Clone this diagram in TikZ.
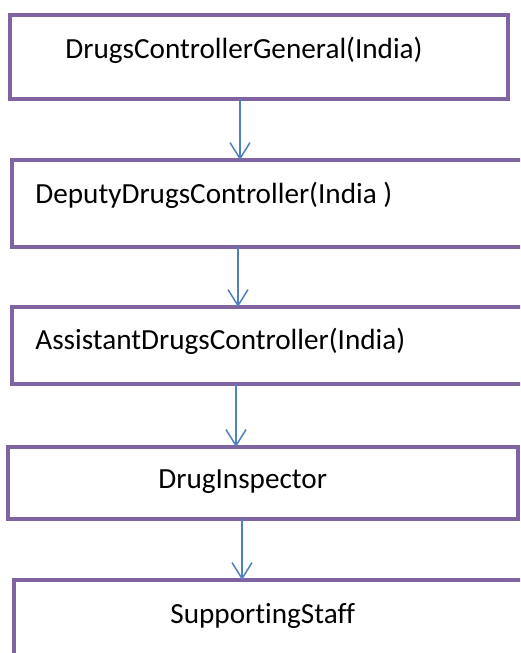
\documentclass[tikz,border=0pt]{standalone}
\usepackage{fontspec}
\setmainfont[Ligatures={NoCommon}]{Carlito}
\usepackage{tikz}
\usetikzlibrary{arrows.meta}
\definecolor{boxpurple}{HTML}{8064A2}
\definecolor{linkblue}{HTML}{4F81BD}
\tikzset{
  post/.style={draw=boxpurple,line width=2.3pt,rectangle,inner sep=0pt,outer sep=0pt},
  txt/.style={anchor=base west,inner sep=0pt,font=\fontsize{14.6}{17}\selectfont},
  link/.style={draw=linkblue,line width=0.75pt,-{Straight Barb[length=8pt,width=10pt,line width=0.75pt]}}
}
\begin{document}
\begin{tikzpicture}[x=0.5pt,y=-0.5pt]
\clip (0,0) rectangle (520,653);
\fill[white] (0,0) rectangle (520,653);
% the five posts, top to bottom
\node[post,minimum width=249pt,minimum height=42pt] (dcg) at (259,57) {};
\node[post,minimum width=259pt,minimum height=43.5pt] (ddc) at (271,203.5) {};
\node[post,minimum width=259pt,minimum height=38.5pt] (adc) at (271,345.5) {};
\node[post,minimum width=255pt,minimum height=36pt] (di) at (263,483) {};
\node[post,minimum width=258pt,minimum height=60pt] (ss) at (272,640) {};
\node[txt] (tdcg) at (65,58) {DrugsControllerGeneral(India)};
\node[txt] (tddc) at (35,203) {DeputyDrugsController(India )};
\node[txt] (tadc) at (35,349) {AssistantDrugsController(India)};
\node[txt] (tdi) at (158,488) {DrugInspector};
\node[txt] (tss) at (170,623) {SupportingStaff};
% arrows
\draw[link] (dcg.south -| 240,0) -- (ddc.north -| 240,0);
\draw[link] (ddc.south -| 238,0) -- (adc.north -| 238,0);
\draw[link] (adc.south -| 236,0) -- (di.north -| 236,0);
\draw[link] (di.south -| 242,0) -- (ss.north -| 242,0);
\end{tikzpicture}
\end{document}
